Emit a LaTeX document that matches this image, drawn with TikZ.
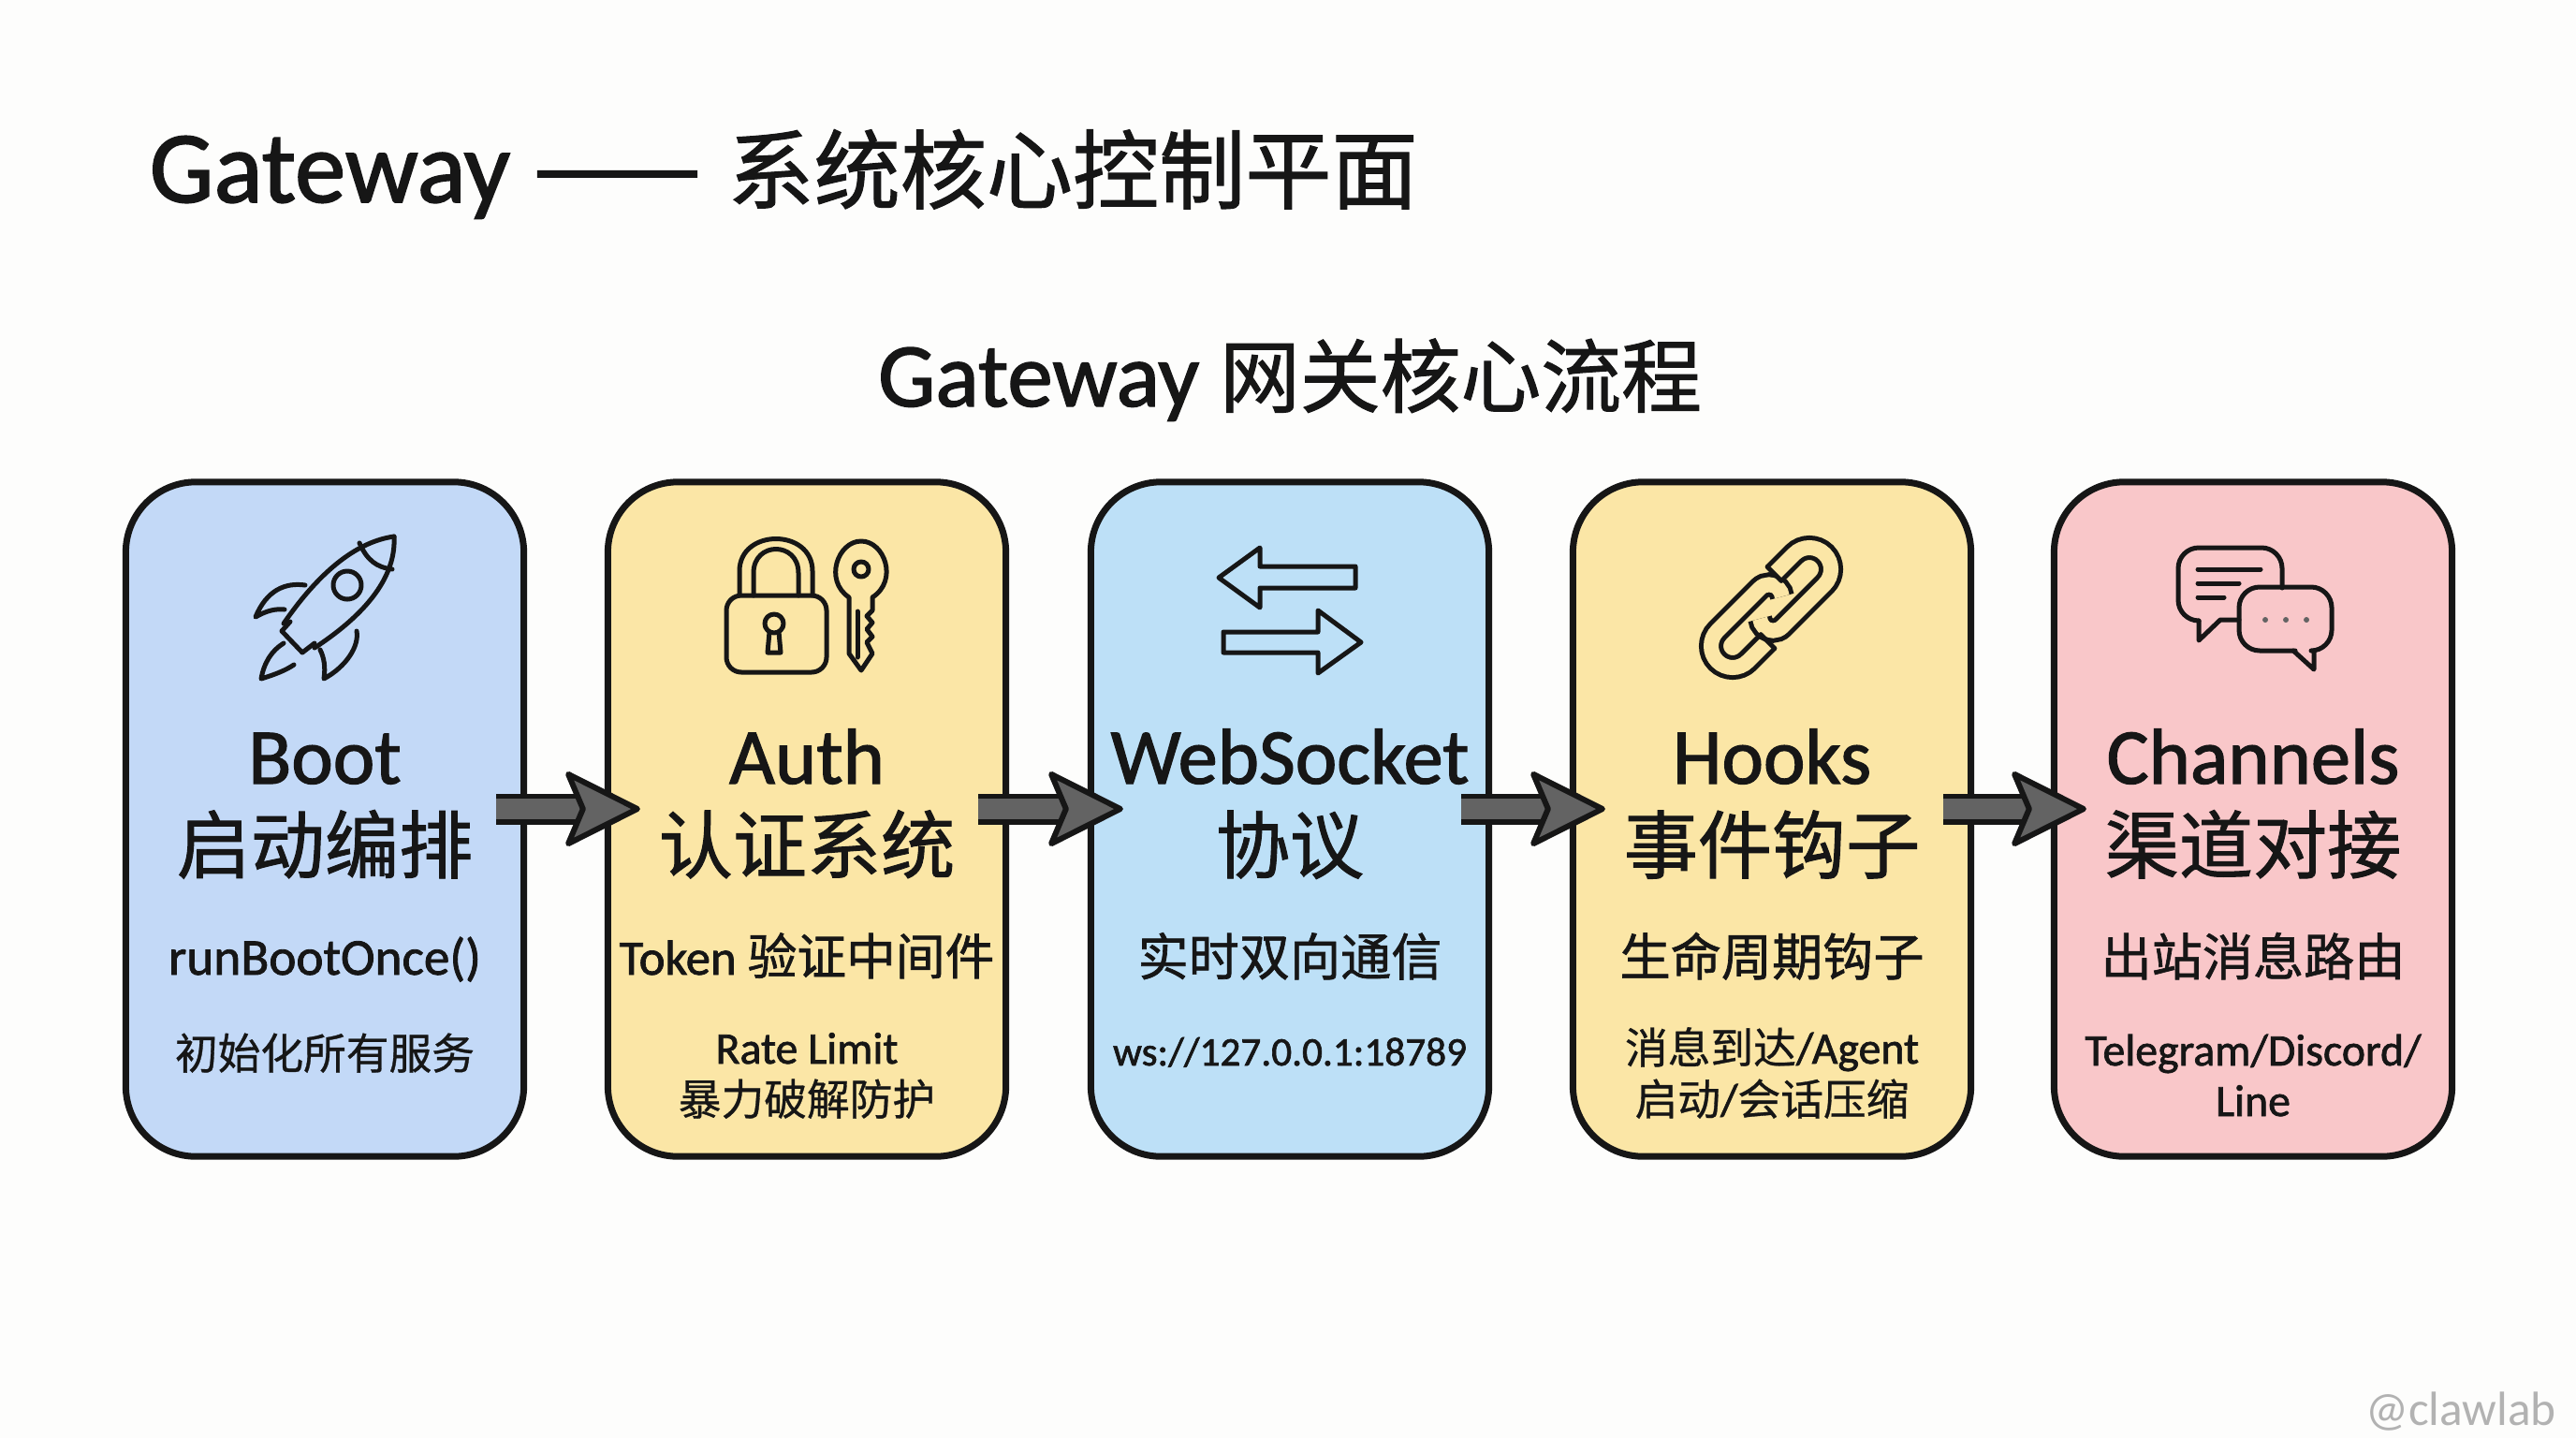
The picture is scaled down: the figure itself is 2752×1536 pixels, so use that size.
\documentclass[tikz,border=0pt]{standalone}
\usepackage{fontspec}
\setmainfont{Carlito}
\newfontfamily\zhm[FakeBold=1.2]{Noto Sans CJK SC}
\newfontfamily\zhs[FakeBold=.7]{Noto Sans CJK SC}
\newfontfamily\lat[FakeBold=1.5]{Carlito}
\usetikzlibrary{arrows.meta}
\definecolor{page}{HTML}{FDFDFC}
\definecolor{bootblue}{HTML}{C3D9F7}
\definecolor{sand}{HTML}{FBE6A6}
\definecolor{sky}{HTML}{BDE0F7}
\definecolor{rose}{HTML}{F9C7C9}
\definecolor{ink}{HTML}{161616}
\definecolor{flowgrey}{HTML}{636363}
\newcommand{\lowzh}[1]{{\fontsize{13}{16}\selectfont\zhs #1}}
\begin{document}
\begin{tikzpicture}
                        [x=.01cm,y=-.01cm,
                        card/.style={draw=ink,line width=.07cm,rounded corners=.75cm,minimum width=4.25cm,minimum height=7.2cm},
                        titletext/.style={anchor=base,text=ink,font=\fontsize{31}{34}\selectfont\lat},
                        head/.style={anchor=base,text=ink,font=\fontsize{24}{28}\selectfont\lat},
                        zhhead/.style={anchor=base,text=ink,font=\fontsize{22.5}{26}\selectfont\zhm},
                        mid/.style={anchor=base,text=ink,font=\fontsize{15.4}{20}\selectfont\lat},
                        zhmid/.style={anchor=base,text=ink,font=\fontsize{15.4}{20}\selectfont\zhm},
                        low/.style={anchor=base,text=ink,font=\fontsize{13.6}{18}\selectfont\lat},
                        zhlow/.style={anchor=base,text=ink,font=\fontsize{13}{16}\selectfont\zhs},
                        icon/.style={draw=ink,line width=.05cm,line join=round,line cap=round},
                        link/.style={draw=ink,line width=.05cm,double=sand,double distance=.16cm,line cap=butt},
                        flow/.style={draw=ink,line width=.055cm,double=flowgrey,double distance=.22cm,
                                -{Stealth[length=.86cm,width=.86cm,inset=.18cm,fill=flowgrey,line width=.06cm,round]},
                                shorten <=-.33cm,shorten >=-.38cm}]
                        \useasboundingbox (0,0) rectangle (2752,1536);
                        \fill [page] (0,0) rectangle (2752,1536);
                        %Titel
                        \node [titletext,anchor=base west,inner sep=0pt] (maintitle) at (159,216) {Gateway {\fontsize{30.5}{32}\selectfont\zhm ——}\hspace{8pt}{\fontsize{26.2}{32}\selectfont\zhm 系统核心控制平面}};
                        \node [head,inner sep=0pt,font=\fontsize{27.6}{30}\selectfont\lat] (subtitle) at (1378,434) {Gateway {\fontsize{24.4}{28}\selectfont\zhm 网关核心流程}};
                        %Karten
                        \node [card,fill=bootblue] (boot) at (347,875) {};
                        \node [card,fill=sand] (auth) at (862,875) {};
                        \node [card,fill=sky] (ws) at (1378,875) {};
                        \node [card,fill=sand] (hooks) at (1893,875) {};
                        \node [card,fill=rose] (chan) at (2407,875) {};
                        %Pfeile
                        \draw [flow] ([yshift=.11cm]boot.east) -- ([yshift=.11cm]auth.west);
                        \draw [flow] ([yshift=.11cm]auth.east) -- ([yshift=.11cm]ws.west);
                        \draw [flow] ([yshift=.11cm]ws.east) -- ([yshift=.11cm]hooks.west);
                        \draw [flow] ([yshift=.11cm]hooks.east) -- ([yshift=.11cm]chan.west);
                        %Boot
                        \draw [icon] (421,573) .. controls (385,578) and (345,605) .. (303,666);
                        \draw [icon] (421,573) .. controls (423,610) and (400,650) .. (336,692);
                        \draw [icon] (384,580) .. controls (392,598) and (402,606) .. (419,608);
                        \draw [icon] (371,625) circle [radius=15];
                        \draw [icon] (310,664) -- (301,674) -- (323,697) -- (336,687);
                        \draw [icon] (326,625) .. controls (305,622) and (285,630) .. (273,659) .. controls (285,652) and (295,650) .. (304,651);
                        \draw [icon] (381,674) .. controls (384,690) and (370,712) .. (346,725) .. controls (348,712) and (346,702) .. (342,694);
                        \draw [icon] (303,687) .. controls (290,695) and (282,708) .. (279,725) .. controls (295,720) and (305,716) .. (314,710);
                        \node [head] (boottop) at (347,837) {Boot};
                        \node [zhhead] (bootzh) at (347,932) {启动编排};
                        \node [mid,font=\fontsize{15.7}{20}\selectfont\lat] (bootcall) at (347,1041) {runBootOnce()};
                        \node [zhlow] (bootinit) at (347,1142) {初始化所有服务};
                        %Auth
                        \draw [icon,rounded corners=.16cm] (776,636) rectangle (883,718);
                        \draw [icon] (790,636) -- (790,610) .. controls (790,564) and (868,564) .. (868,610) -- (868,636);
                        \draw [icon] (805,636) -- (805,612) .. controls (805,578) and (853,578) .. (853,612) -- (853,636);
                        \draw [icon] (827,666) circle [radius=10];
                        \draw [icon] (822,675) -- (820,697) -- (834,697) -- (832,675);
                        \draw [icon] (907,638) .. controls (880,620) and (895,578) .. (920,578) .. controls (945,578) and (960,620) .. (932,638) -- (932,652) -- (926,658) -- (932,665) -- (926,672) -- (932,680) -- (926,686) -- (932,698) -- (920,716) -- (907,698) -- cycle;
                        \draw [icon] (920,608) circle [radius=8];
                        \draw [icon] (916,653) -- (916,702);
                        \node [head] (authtop) at (862,837) {Auth};
                        \node [zhhead] (authzh) at (862,932) {认证系统};
                        \node [mid,font=\fontsize{15}{20}\selectfont\lat] (authmw) at (862,1041) {Token {\zhm 验证中间件}};
                        \node [low] (authrate) at (862,1136) {Rate Limit};
                        \node [zhlow] (authzhlow) at (862,1191) {暴力破解防护};
                        %WebSocket
                        \draw [icon] (1302,617) -- (1346,585) -- (1346,605) -- (1448,605) -- (1448,628) -- (1346,628) -- (1346,649) -- cycle;
                        \draw [icon] (1454,686) -- (1408,652) -- (1408,675) -- (1307,675) -- (1307,697) -- (1408,697) -- (1408,719) -- cycle;
                        \node [head] (wstop) at (1378,837) {WebSocket};
                        \node [zhhead] (wszh) at (1378,932) {协议};
                        \node [zhmid] (wsmid) at (1378,1042) {实时双向通信};
                        \node [low,font=\fontsize{12.3}{18}\selectfont\lat] (wsaddr) at (1378,1138) {ws://127.0.0.1:18789};
                        %Hooks
                        \begin{scope}[shift={(1892,649)},rotate=45]
                                \draw [link] (-28,23) -- (-58,23) arc [start angle=90,end angle=270,radius=23] -- (6,-23) arc [start angle=-90,end angle=40,radius=14];
                                \draw [link] (28,-23) -- (58,-23) arc [start angle=-90,end angle=90,radius=23] -- (-6,23) arc [start angle=90,end angle=220,radius=14];
                                \draw [icon] (-28,12.5) -- (-28,33.5);
                                \draw [icon] (28,-12.5) -- (28,-33.5);
                        \end{scope}
                        \node [head] (hookstop) at (1893,837) {Hooks};
                        \node [zhhead] (hookszh) at (1893,932) {事件钩子};
                        \node [zhmid] (hooksmid) at (1893,1042) {生命周期钩子};
                        \node [low] (hooksone) at (1893,1136) {\lowzh{消息到达}/Agent};
                        \node [low] (hookstwo) at (1893,1191) {\lowzh{启动}/\lowzh{会话压缩}};
                        %Channels
                        \draw [icon,rounded corners=.22cm] (2438,628) -- (2438,585) -- (2327,585) -- (2327,663) -- (2349,663);
                        \draw [icon] (2349,663) -- (2349,684) -- (2372,662) -- (2392,662);
                        \draw [icon] (2348,608) -- (2415,608);
                        \draw [icon] (2348,623) -- (2392,623);
                        \draw [icon] (2348,638) -- (2376,638);
                        \draw [icon,rounded corners=.22cm] (2470,695) -- (2491,695) -- (2491,627) -- (2392,627) -- (2392,695) -- (2452,695);
                        \draw [icon] (2450,695) -- (2472,715) -- (2472,695);
                        \fill [flowgrey] (2420,662) circle [radius=3] (2442,662) circle [radius=3] (2464,662) circle [radius=3];
                        \node [head] (chantop) at (2407,837) {Channels};
                        \node [zhhead] (chanzh) at (2407,932) {渠道对接};
                        \node [zhmid] (chanmid) at (2407,1042) {出站消息路由};
                        \node [low] (chanone) at (2407,1138) {Telegram/Discord/};
                        \node [low] (chantwo) at (2407,1192) {Line};
                        %Wasserzeichen
                        \node [font=\fontsize{14.6}{18}\selectfont,text=black!30,anchor=base] (mark) at (2629,1522) {@clawlab};
                \end{tikzpicture}
\end{document}
